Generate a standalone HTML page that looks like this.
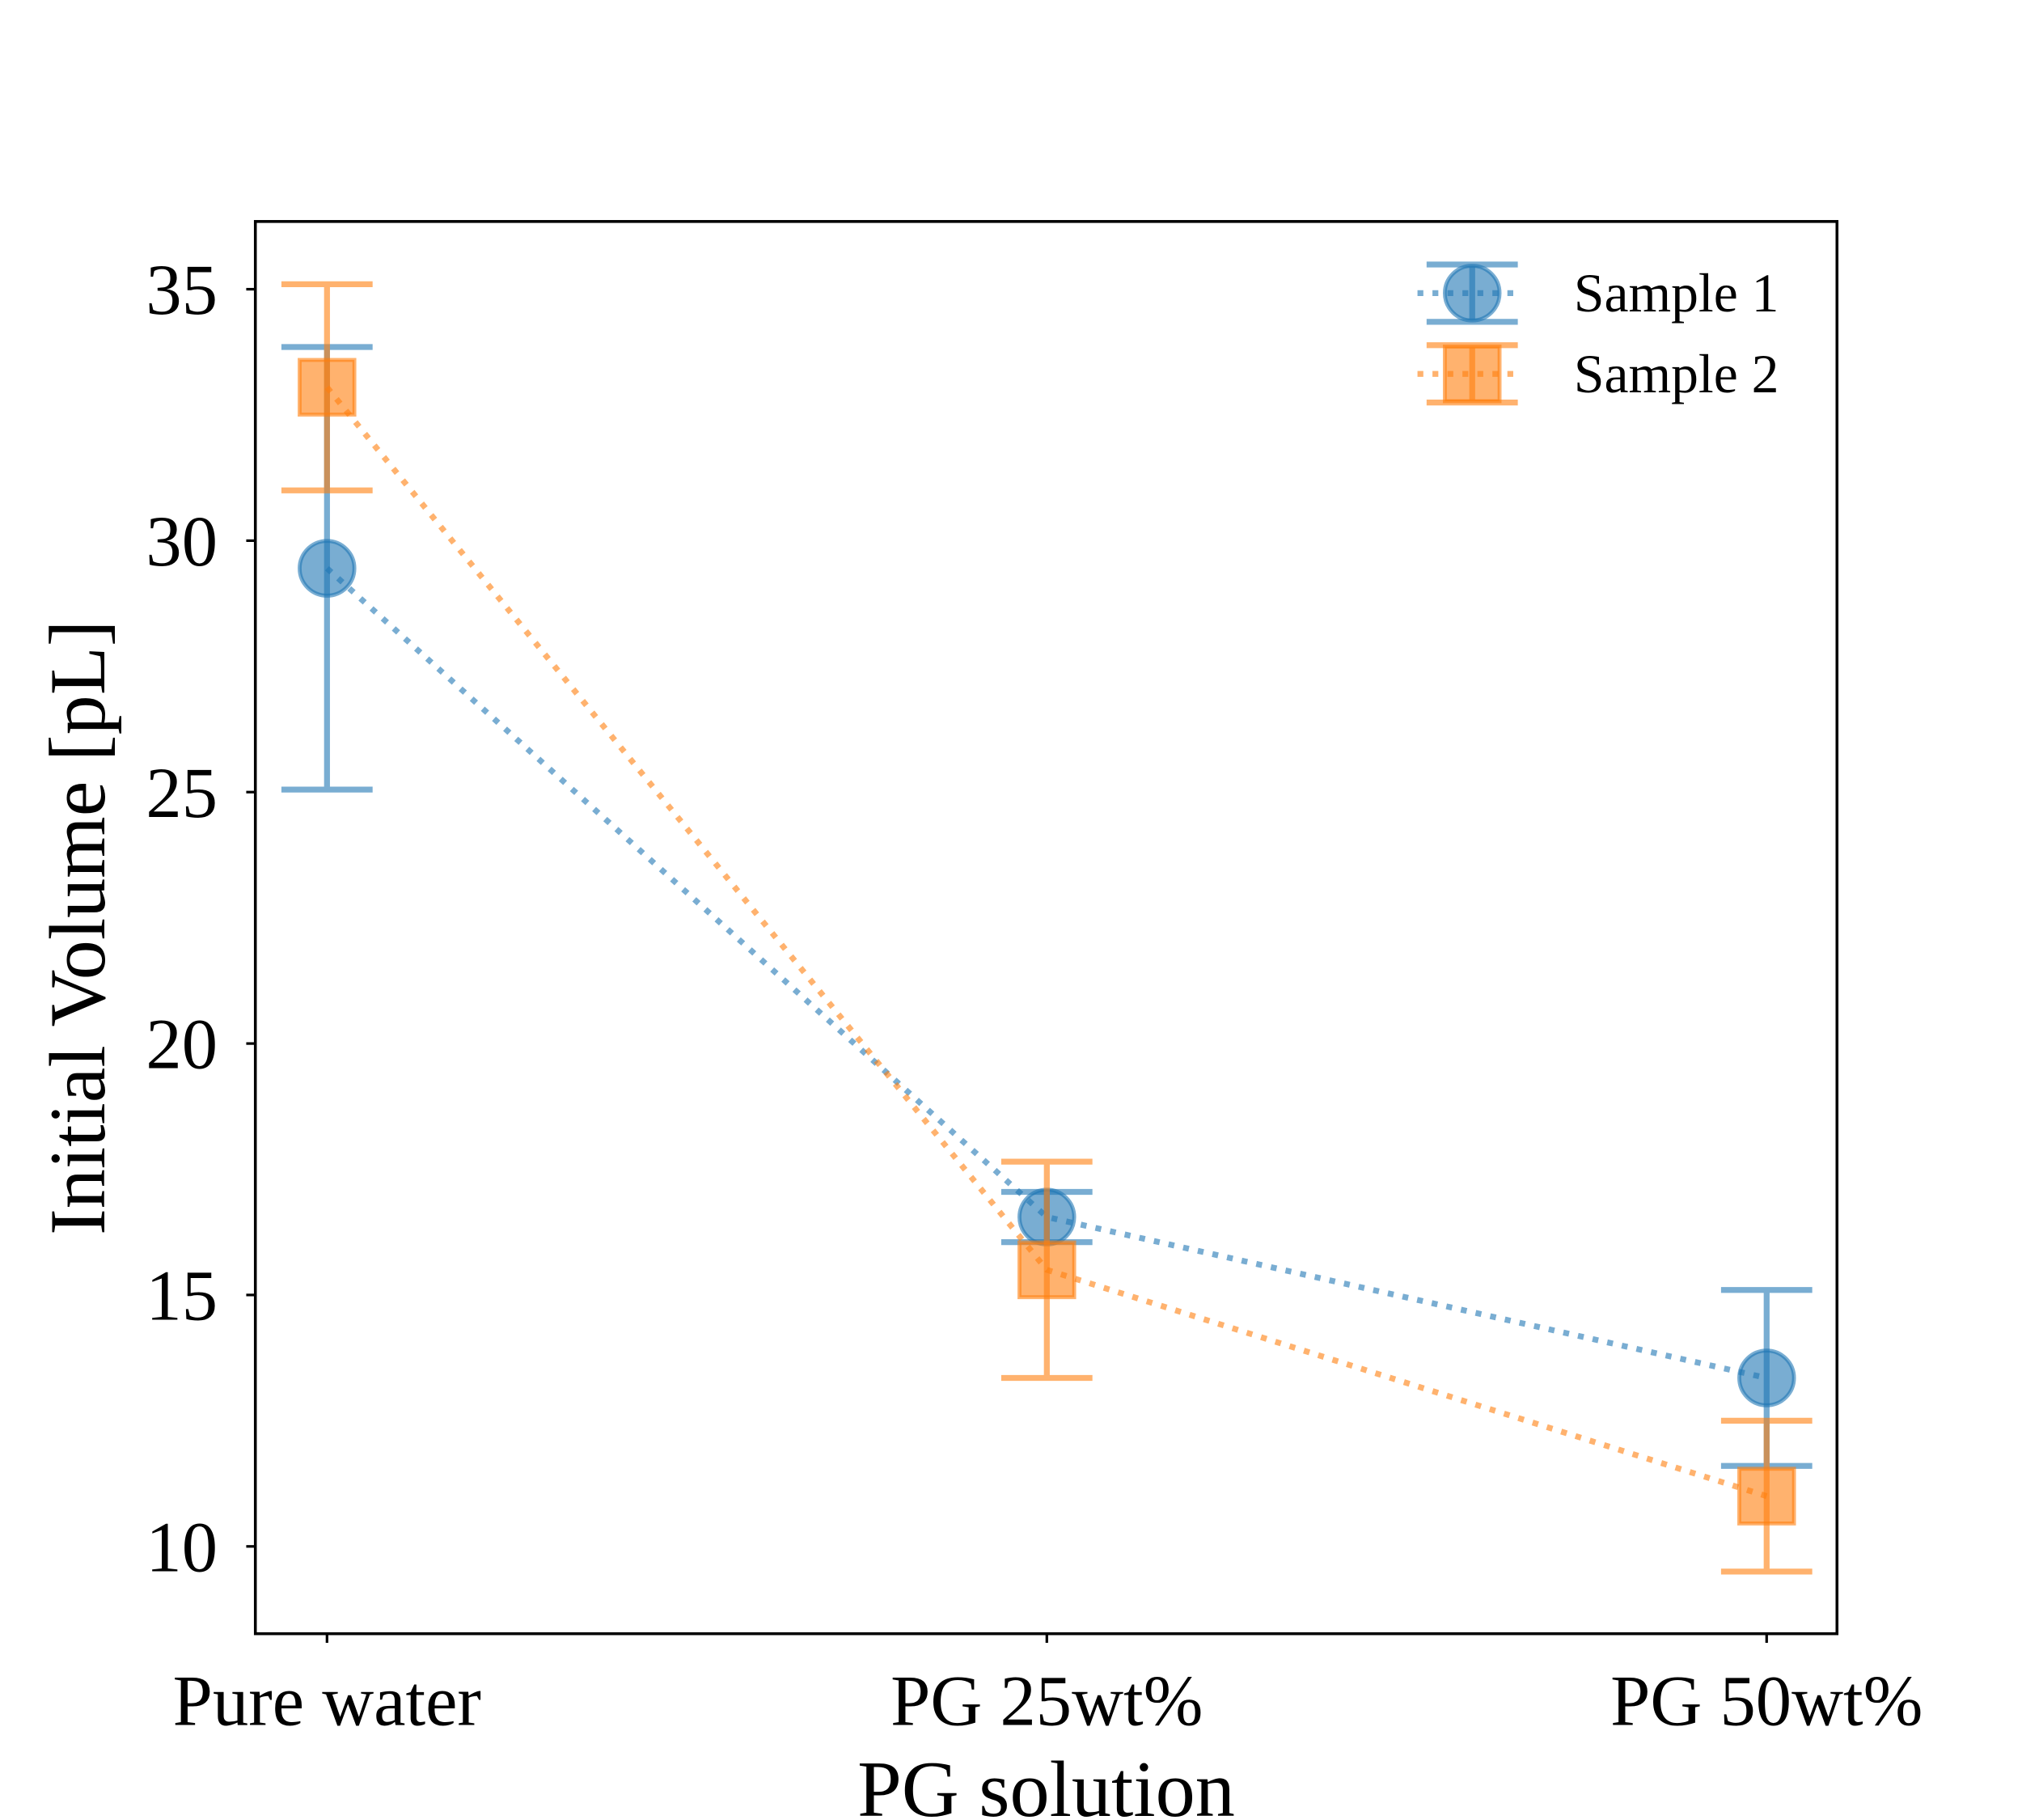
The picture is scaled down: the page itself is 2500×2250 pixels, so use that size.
<!DOCTYPE html>
<html><head><meta charset="utf-8"><style>
html,body{margin:0;padding:0;background:#fff;}
svg{display:block;}
text{font-family:"Liberation Serif",serif;fill:#000;}
</style></head><body>
<svg id="chart" width="2500" height="2250" viewBox="0 0 1552 1397" preserveAspectRatio="none" xmlns="http://www.w3.org/2000/svg">
<rect width="1552" height="1397" fill="#fff"/>
<g id="plot"></g>
<rect x="196" y="170" width="1214" height="1084" fill="none" stroke="#000" stroke-width="2.2"/>
<g id="axes"></g>
<text x="803" y="1394" font-size="61" text-anchor="middle">PG solution</text>
<text transform="translate(80,712) rotate(-90)" font-size="61" text-anchor="middle">Initial Volume [pL]</text>
<g id="legend"></g>
</svg>
<script>
const categories = ["Pure water", "PG 25wt%", "PG 50wt%"];
const s1Values = [29.45, 16.55, 13.35];
const s1Errors = [4.4, 0.5, 1.75];
const s2Values = [33.05, 15.5, 11.0];
const s2Errors = [2.05, 2.15, 1.5];
const yTicks = [10, 15, 20, 25, 30, 35];
const seriesNames = ["Sample 1", "Sample 2"];

const NS = "http://www.w3.org/2000/svg";
function xPos(i){ return 251 + i * 552.5; }
function yPos(v){ return 1187 - (v - 10) * 38.6; }
function mk(tag, attrs, parent){
  const e = document.createElementNS(NS, tag);
  for (const k in attrs) e.setAttribute(k, attrs[k]);
  parent.appendChild(e);
  return e;
}
const plot = document.getElementById('plot');
const axes = document.getElementById('axes');
const legend = document.getElementById('legend');

yTicks.forEach(t => {
  const y = yPos(t);
  const tk = mk('line', {x1:189, x2:196, y1:y, y2:y, stroke:'#000', 'stroke-width':2}, axes);
  
  
  const lb = mk('text', {x:167, y:y + 19, 'font-size':55, 'text-anchor':'end'}, axes);
  lb.textContent = t;
  
  
});
categories.forEach((c, i) => {
  const x = xPos(i);
  const tk = mk('line', {x1:x, x2:x, y1:1254, y2:1261, stroke:'#000', 'stroke-width':2}, axes);
  
  
  const lb = mk('text', {x:x, y:1324, 'font-size':55, 'text-anchor':'middle'}, axes);
  lb.textContent = c;
  
  
});

function drawSeries(vals, errs, color, shape, name){
  const g = mk('g', {}, plot);
  
  
  const pts = vals.map((v, i) => xPos(i) + ',' + yPos(v)).join(' ');
  const ln = mk('polyline', {points:pts, fill:'none', stroke:color, 'stroke-opacity':0.6, 'stroke-width':4.5, 'stroke-dasharray':'4.5 7'}, g);
  
  
  vals.forEach((v, i) => {
    const x = xPos(i), yt = yPos(v + errs[i]), yb = yPos(v - errs[i]);
    const eb = mk('path', {d:`M${x},${yt}V${yb}M${x-35},${yt}H${x+35}M${x-35},${yb}H${x+35}`, stroke:color, 'stroke-opacity':0.6, 'stroke-width':4.5, fill:'none'}, g);
    
    
    let m;
    if (shape === 'circle') m = mk('circle', {cx:x, cy:yPos(v), r:21, fill:color, 'fill-opacity':0.6, stroke:color, 'stroke-opacity':0.6, 'stroke-width':3}, g);
    else m = mk('rect', {x:x-21, y:yPos(v)-21, width:42, height:42, fill:color, 'fill-opacity':0.6, stroke:color, 'stroke-opacity':0.6, 'stroke-width':3}, g);
    
    
  });
}
drawSeries(s1Values, s1Errors, '#1f77b4', 'circle', 'sample-1');
drawSeries(s2Values, s2Errors, '#ff7f0e', 'square', 'sample-2');

[['#1f77b4','circle',225],['#ff7f0e','square',287]].forEach((d, i) => {
  const [color, shape, y] = d;
  const g = mk('g', {}, legend);
  
  
  mk('line', {x1:1088, x2:1162, y1:y, y2:y, stroke:color, 'stroke-opacity':0.6, 'stroke-width':4.5, 'stroke-dasharray':'4.5 7'}, g);
  mk('path', {d:`M1130,${y-22}V${y+22}M1095,${y-22}H1165M1095,${y+22}H1165`, stroke:color, 'stroke-opacity':0.6, 'stroke-width':4.5, fill:'none'}, g);
  if (shape === 'circle') mk('circle', {cx:1130, cy:y, r:21, fill:color, 'fill-opacity':0.6, stroke:color, 'stroke-opacity':0.6, 'stroke-width':3}, g);
  else mk('rect', {x:1109, y:y-21, width:42, height:42, fill:color, 'fill-opacity':0.6, stroke:color, 'stroke-opacity':0.6, 'stroke-width':3}, g);
  const t = mk('text', {x:1208, y:y + 14, 'font-size':42}, g);
  t.textContent = seriesNames[i];
  
  
});
</script>
</body></html>
